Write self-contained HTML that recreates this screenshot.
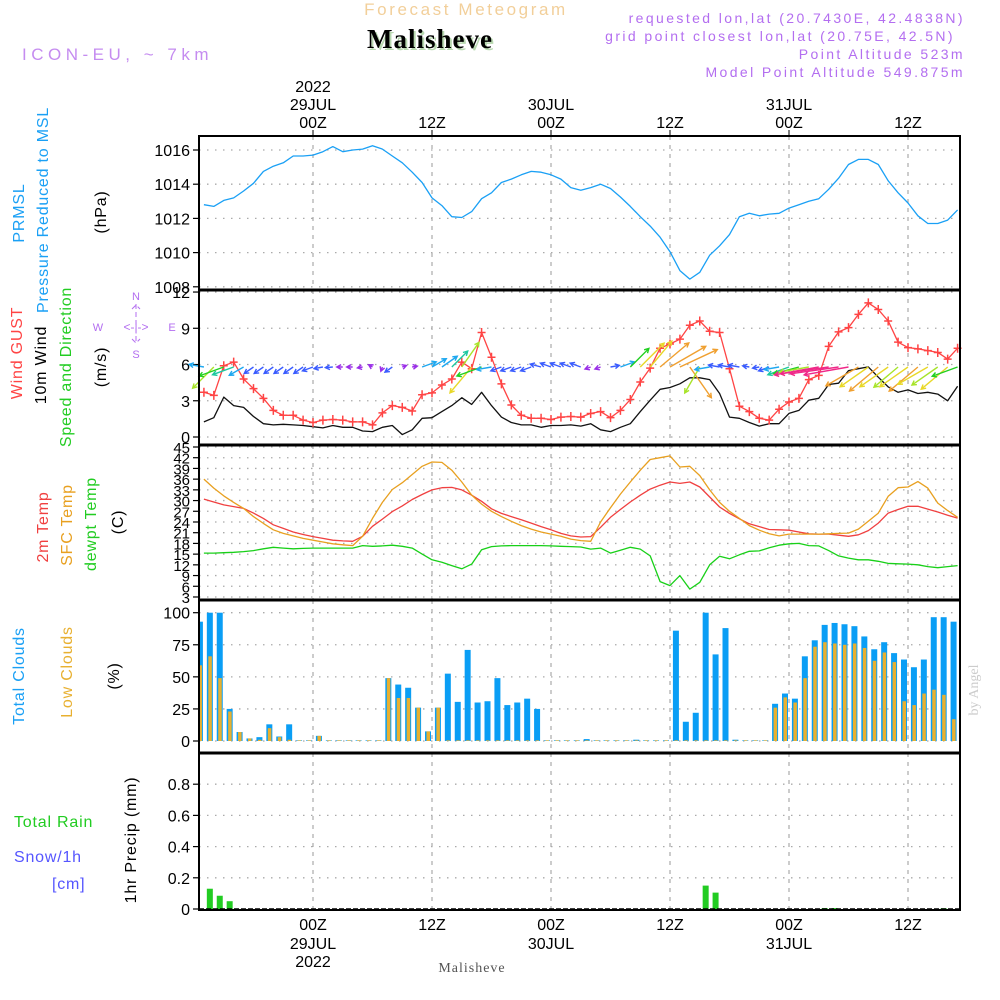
<!DOCTYPE html>
<html><head><meta charset="utf-8"><style>
html,body{margin:0;padding:0;background:#fff;}
svg{display:block;font-family:"Liberation Sans",sans-serif;}
</style></head><body>
<svg id="chart" width="1000" height="1000" viewBox="0 0 1000 1000" xmlns="http://www.w3.org/2000/svg">
<g id="hdr">
<text x="466" y="15" text-anchor="middle" font-size="17" fill="#f2cf9a" letter-spacing="2.6">Forecast Meteogram</text>
<text x="432" y="50" text-anchor="middle" font-family="Liberation Serif,serif" font-weight="bold" font-size="27" fill="#b8d8b0" letter-spacing="1">Malisheve</text>
<text x="430" y="48" text-anchor="middle" font-family="Liberation Serif,serif" font-weight="bold" font-size="27" fill="#000" letter-spacing="1">Malisheve</text>
<text x="22" y="60" font-size="17" fill="#c58cf0" letter-spacing="4.5">ICON-EU, ~ 7km</text>
<g fill="#b36ef0" font-size="14" text-anchor="end" letter-spacing="2.4">
<text x="965" y="23">requested lon,lat (20.7430E, 42.4838N)</text>
<text x="955" y="41">grid point closest lon,lat (20.75E, 42.5N)</text>
<text x="965" y="59">Point Altitude 523m</text>
<text x="965" y="77">Model Point Altitude 549.875m</text>
</g>
</g>
<g id="plot"></g>
</svg>
<script>
const hours = []; for (let h = -11; h <= 65; h++) hours.push(h);
const pressure = [1012.8,1012.7,1013.05,1013.2,1013.6,1014.05,1014.75,1015.05,1015.25,1015.65,1015.65,1015.7,1015.9,1016.2,1015.9,1016.0,1016.05,1016.25,1016.05,1015.65,1015.25,1014.7,1014.1,1013.2,1012.75,1012.1,1012.05,1012.4,1013.15,1013.5,1014.1,1014.3,1014.55,1014.75,1014.7,1014.55,1014.3,1013.8,1013.65,1013.8,1014.0,1013.75,1013.25,1012.7,1012.1,1011.55,1010.9,1010.05,1008.95,1008.45,1008.85,1009.85,1010.4,1011.05,1012.1,1012.3,1012.15,1012.25,1012.3,1012.6,1012.8,1013.0,1013.15,1013.7,1014.35,1015.15,1015.45,1015.45,1015.15,1014.2,1013.5,1012.9,1012.15,1011.7,1011.7,1011.9,1012.5];
const gust = [3.7,3.45,5.9,6.2,4.8,4.0,3.2,2.2,1.8,1.8,1.4,1.2,1.4,1.45,1.4,1.25,1.25,1.0,2.0,2.6,2.45,2.15,3.5,3.65,4.3,4.8,6.2,5.65,8.65,6.6,4.4,2.65,1.8,1.55,1.55,1.45,1.65,1.7,1.65,1.95,2.1,1.6,2.2,3.1,4.55,5.7,7.35,7.7,8.1,9.25,9.6,8.75,8.65,5.65,2.55,2.1,1.55,1.4,2.3,2.9,3.2,4.75,5.1,7.5,8.7,9.05,10.15,11.1,10.55,9.6,7.85,7.4,7.3,7.15,7.0,6.45,7.35];
const wind10 = [1.25,1.6,3.3,2.6,2.45,1.7,1.1,1.0,1.05,1.0,0.95,0.85,0.75,0.95,0.8,0.8,0.5,0.45,0.8,0.95,0.2,0.6,1.55,1.6,2.1,2.6,3.25,2.7,3.7,2.6,1.65,1.2,1.0,1.0,0.8,0.95,0.95,1.0,0.9,1.1,0.6,0.45,0.8,1.1,2.1,3.05,3.95,4.1,4.4,4.9,4.9,4.75,3.6,1.65,1.55,1.2,0.9,1.1,1.1,1.95,2.2,3.05,3.2,4.35,4.45,5.5,5.65,5.8,4.95,4.15,3.7,3.9,3.6,3.7,3.55,3.0,4.2];
const arrowDir = [170,225,200,200,210,215,215,215,215,215,215,200,190,185,180,180,190,150,250,215,20,10,20,30,35,45,55,230,200,190,200,200,200,200,165,160,160,160,160,200,200,10,20,45,45,50,40,30,25,-55,240,190,170,170,170,170,190,200,190,200,195,190,190,188,188,190,210,215,220,215,220,215,220,210,215,220,200];
const arrowSpd = [2.0,4.0,3.5,3.0,2.2,1.5,1.5,1.5,1.5,1.5,1.5,1.5,1.2,1.0,0.8,0.8,0.7,0.6,0.6,1.2,0.6,0.7,2.0,2.2,2.5,3.0,4.0,4.5,3.5,2.0,1.5,1.5,1.5,1.5,1.5,1.5,1.5,1.5,1.5,0.8,0.8,1.2,2.0,3.5,4.5,4.5,5.0,5.5,5.5,5.0,4.0,2.0,1.5,1.5,1.5,0.9,0.9,1.5,2.0,3.0,3.5,4.0,6.0,6.5,6.5,6.0,5.0,4.6,5.0,4.6,4.2,4.6,5.0,4.6,4.2,4.6,3.6];
const temp2m = [30.4,29.6,28.8,28.3,27.8,26.5,25.0,23.2,22.2,21.2,20.5,19.9,19.4,18.9,18.7,18.6,20.0,22.8,24.8,26.9,28.5,30.3,31.7,33.0,33.6,33.7,33.0,31.5,29.8,27.7,26.4,25.5,24.6,23.7,22.7,21.8,20.8,20.1,19.8,19.9,22.5,25.3,27.5,29.6,31.5,33.2,34.3,35.2,34.8,35.2,33.8,31.0,28.2,26.4,24.9,23.5,22.7,21.9,21.8,21.7,21.2,20.7,20.6,20.6,20.3,20.0,20.4,21.6,23.7,26.5,27.5,28.4,28.4,27.6,26.8,25.9,25.1];
const tempSfc = [36.0,33.5,31.3,29.5,27.8,25.5,23.6,21.8,20.8,20.1,19.4,18.9,18.4,17.9,17.6,17.4,20.0,25.0,29.5,33.1,35.0,37.3,39.6,40.8,40.7,38.5,35.2,31.5,29.0,27.0,25.5,24.2,23.0,22.0,21.2,20.6,20.0,19.2,18.8,18.6,24.0,28.0,31.8,35.2,38.5,41.5,42.0,42.5,39.4,39.6,37.0,33.0,29.5,27.0,25.0,23.0,21.7,20.7,20.1,20.6,20.6,20.6,20.6,20.7,20.8,20.9,22.0,24.2,26.5,31.2,33.6,33.8,35.3,33.5,29.3,27.2,25.3];
const dewpt = [15.3,15.3,15.4,15.5,15.7,16.0,16.5,16.9,16.7,16.5,16.6,16.7,16.7,16.7,16.7,16.7,17.4,17.2,17.3,17.5,17.2,16.7,15.0,13.4,12.7,11.8,10.9,12.2,16.2,17.1,17.3,17.4,17.4,17.4,17.4,17.3,17.2,17.1,17.0,16.4,16.7,15.3,16.1,16.9,16.4,14.5,7.3,6.2,9.0,5.2,7.1,12.0,14.4,13.7,14.8,15.8,15.9,16.8,17.5,17.9,18.0,17.4,17.3,16.0,14.5,13.9,13.4,13.4,13.0,12.4,12.3,12.2,12.0,11.5,11.2,11.5,11.8];
const totalClouds = [93,100,100,25,7,2,3,13,3.5,13,0.5,0.5,4,0.5,0.5,0.5,0.5,0.5,0.5,49,44,41.5,26,7.5,26,52.5,30.5,71,30,31,49,28,30,33,25,0.5,0.5,0.5,0.5,1.5,0.5,0.5,0.5,0.5,1,0.5,0.5,0.5,86,15,22,100,67.5,88,1,0.5,0.5,0.5,29,37,33,66,78.5,90.5,92,91,89.5,81.5,71.5,77,68.5,63.5,57.5,63.5,96.5,96.5,93];
const lowClouds = [59,66,49,23,7,2,1,10,3,1,0.5,0.5,4,0.5,0.5,0.5,0.5,0.5,0.5,49,33.5,33.5,26,7.5,26,0.5,0.5,0.5,0.5,0.5,0.5,0.5,0.5,0.5,0.5,0.5,0.5,0.5,0.5,0.5,0.5,0.5,0.5,0.5,0.5,0.5,0.5,0.5,0.5,0.5,0.5,0.5,0.5,0.5,0.5,0.5,0.5,0.5,26,34,30,49,73.5,77,76,75,76,72.5,62.5,69,61.5,31,28,37,40,36,17];
const precip = [0,0.13,0.085,0.05,0,0,0,0,0,0,0,0,0,0,0,0,0,0,0,0,0,0,0,0,0,0,0,0,0,0,0,0,0,0,0,0,0,0,0,0,0,0,0,0,0,0,0,0,0,0,0,0.15,0.105,0,0,0,0,0,0,0,0,0,0,0.006,0.006,0,0,0,0,0,0,0,0,0,0,0.005,0];
const pTicks = [1008,1010,1012,1014,1016];
const wTicks = [0,3,6,9,12];
const tTicks = [3,6,9,12,15,18,21,24,27,30,33,36,39,42,45];
const cTicks = [0,25,50,75,100];
const rTicks = [0,0.2,0.4,0.6,0.8];
const rTickLabels = ["0","0.2","0.4","0.6","0.8"];
const timeTicks = [0,12,24,36,48,60];
const timeLabels = ["00Z","12Z","00Z","12Z","00Z","12Z"];

const NS = "http://www.w3.org/2000/svg";
const root = document.getElementById('plot');
function el(tag, attrs, parent, text){const e=document.createElementNS(NS,tag);for(const k in attrs)e.setAttribute(k,attrs[k]);if(text!==undefined)e.textContent=text;(parent||root).appendChild(e);return e;}
const L=199,R=960;
const xH = h => 313 + h*119/12;
const yP = v => 150 + (1016-v)*17.1;
const yW = v => 437 - v*12.08;
const yT = v => 447 + (45-v)*3.571;
const yC = v => 741 - v*1.283;
const yR = v => 909 - v*156;
const panels = [[136,290],[290,445],[445,600],[600,753],[753,910]];

function hgrid(ticks, fy, top, bot, name){
  ticks.forEach(t=>{const y=fy(t); if(y<top+2||y>bot-2) return;
    const g=el('line',{x1:L,x2:R,y1:y,y2:y,stroke:'#aaa','stroke-width':1.3,'stroke-dasharray':'1.5 6.5'});
    
    
  });
}
panels.forEach((p,i)=>{
  timeTicks.forEach(t=>{const x=xH(t);
    const g=el('line',{x1:x,x2:x,y1:p[0],y2:p[1],stroke:'#aaa','stroke-width':1.2,'stroke-dasharray':'4 5'});
    
    
  });
});
hgrid(pTicks,yP,136,290,'pressure');
hgrid(wTicks,yW,290,445,'wind');
hgrid(tTicks,yT,445,600,'temp');
hgrid(cTicks,yC,600,753,'cloud');
hgrid(rTicks.slice(1),yR,753,910,'precip');

function yTickLabels(ticks, fy, fmt, name, fs){
  ticks.forEach((t,i)=>{const y=fy(t);
    const tk=el('line',{x1:193,x2:199,y1:y,y2:y,stroke:'#000','stroke-width':1.2});
    
    
    const tx=el('text',{x:190,y:y+6,'text-anchor':'end','font-size':fs||16,fill:'#000'},root,fmt(t,i));
    
    
  });
}
yTickLabels(pTicks,yP,t=>String(t),'pressure',16);
yTickLabels(wTicks,yW,t=>String(t),'wind',16);
yTickLabels(tTicks,yT,t=>String(t),'temp',15);
yTickLabels(cTicks,yC,t=>String(t),'cloud',16);
yTickLabels(rTicks,yR,(t,i)=>rTickLabels[i],'precip',16);

function line(vals, fy, color, name, w){
  const d=vals.map((v,i)=>(i?'L':'M')+xH(hours[i]).toFixed(1)+','+fy(v).toFixed(1)).join('');
  const p=el('path',{d:d,fill:'none',stroke:color,'stroke-width':w||1.3,'stroke-linejoin':'round'});
  
  
}
line(pressure,yP,'#1aa0f5','pressure-line');
line(wind10,yW,'#111','wind10m-line');
line(gust,yW,'#f44','wind-gust-line');
gust.forEach((v,i)=>{const x=xH(hours[i]),y=yW(v);
  const m=el('path',{d:`M${x-4},${y}h8M${x},${y-4.5}v9`,stroke:'#f44','stroke-width':1.5});
  
  
});
function arrowColor(s){return s<0.9?'#9a2ee8':s<1.8?'#3a5cff':s<2.6?'#1ea8f0':s<3.2?'#1cc8a0':s<3.8?'#22d022':s<4.3?'#a8e42a':s<4.8?'#e8d828':s<5.7?'#f0a030':'#f02888';}
arrowDir.forEach((d,i)=>{
  const s=arrowSpd[i], len=s*7.5, a=d*Math.PI/180;
  const x0=xH(hours[i]), y0=367;
  const x1=x0+len*Math.cos(a), y1=y0-len*Math.sin(a);
  const hl=5, b1=a+Math.PI-0.5, b2=a+Math.PI+0.5;
  const c=arrowColor(s);
  const p=el('path',{d:`M${x0},${y0}L${x1},${y1}M${x1+hl*Math.cos(b1)},${y1-hl*Math.sin(b1)}L${x1},${y1}L${x1+hl*Math.cos(b2)},${y1-hl*Math.sin(b2)}`,stroke:c,'stroke-width':1.4,fill:'none'});
  
  
});
line(temp2m,yT,'#f04040','temp-2m-line');
line(tempSfc,yT,'#e8a020','temp-sfc-line');
line(dewpt,yT,'#18d018','dewpoint-line');
totalClouds.forEach((v,i)=>{const xe=xH(hours[i]);
  let x0=Math.max(L+1,xe-7);
  const b=el('rect',{x:x0,y:yC(v),width:Math.max(0,xe-1-x0),height:741-yC(v),fill:'#0a9ef5'});
  
  
  const lv=lowClouds[i]; let x1=Math.max(L+1,xe-5.5);
  const o=el('rect',{x:x1,y:yC(lv),width:Math.max(0,xe-2-x1),height:741-yC(lv),fill:'#e8b030'});
  
  
});
precip.forEach((v,i)=>{ if(v<=0) return; const xe=xH(hours[i]);
  const b=el('rect',{x:xe-7,y:yR(v),width:6,height:909-yR(v),fill:'#22cc22'});
  
  
});
const zl=el('line',{x1:L,x2:R,y1:909,y2:909,stroke:'#000','stroke-width':1.5,'stroke-dasharray':'5 2'});


panels.forEach((p,i)=>{
  const f=el('rect',{x:L,y:p[0],width:R-L,height:p[1]-p[0],fill:'none',stroke:'#000','stroke-width':2});
  
  
  if(i>0){const s=el('line',{x1:L,x2:R,y1:p[0],y2:p[0],stroke:'#000','stroke-width':3});
    
    }
});
const dayLabels={0:'29JUL',24:'30JUL',48:'31JUL'};
timeTicks.forEach((t,i)=>{const x=xH(t);
  const tk=el('line',{x1:x,x2:x,y1:130,y2:136,stroke:'#000'});
  
  
  const a=el('text',{x:x,y:128,'text-anchor':'middle','font-size':16,fill:'#000'},root,timeLabels[i]);
  
  
  const b=el('text',{x:x,y:930,'text-anchor':'middle','font-size':16,fill:'#000'},root,timeLabels[i]);
  
  
  if(dayLabels[t]){
    const c=el('text',{x:x,y:110,'text-anchor':'middle','font-size':16,fill:'#000'},root,dayLabels[t]);
    
    
    const d=el('text',{x:x,y:949,'text-anchor':'middle','font-size':16,fill:'#000'},root,dayLabels[t]);
    
    
  }
});
const y1=el('text',{x:313,y:92,'text-anchor':'middle','font-size':16,fill:'#000'},root,'2022');


const y2=el('text',{x:313,y:967,'text-anchor':'middle','font-size':16,fill:'#000'},root,'2022');


const ft=el('text',{x:472,y:972,'text-anchor':'middle','font-size':14,fill:'#555','font-family':'Liberation Serif,serif','letter-spacing':1},root,'Malisheve');


function rlab(txt,x,y,color,name,fs){
  const t=el('text',{x:0,y:0,transform:`translate(${x},${y}) rotate(-90)`,'text-anchor':'middle','font-size':fs||16,fill:color,'letter-spacing':0.8},root,txt);
  
  
}
rlab('PRMSL',24,213,'#1aa0f5','pressure-label-1');
rlab('Pressure Reduced to MSL',48,210,'#1aa0f5','pressure-label-2');
rlab('(hPa)',106,212,'#000','pressure-unit');
rlab('Wind GUST',22,353,'#f44','gust-label');
rlab('10m Wind',46,365,'#000','wind10-label');
rlab('Speed and Direction',71,367,'#22cc22','wind-direction-label');
rlab('(m/s)',106,367,'#000','wind-unit');
rlab('2m Temp',48,527,'#f04040','temp2m-label');
rlab('SFC Temp',72,525,'#e8a020','tempsfc-label');
rlab('dewpt Temp',96,524,'#22cc22','dewpt-label');
rlab('(C)',123,522,'#000','temp-unit');
rlab('Total Clouds',24,676,'#1aa0f5','total-clouds-label');
rlab('Low Clouds',72,672,'#e8b030','low-clouds-label');
rlab('(%)',119,676,'#000','cloud-unit');
rlab('1hr Precip (mm)',136,840,'#000','precip-unit',16);
const w1=el('text',{x:978,y:690,transform:'rotate(-90 978 690)','text-anchor':'middle','font-size':14,fill:'#ccc','font-family':'Liberation Serif,serif'},root,'by Angel');


[['Total  Rain',14,827,'#22cc22','rain-label'],['Snow/1h',14,862,'#5555ff','snow-label'],['[cm]',52,889,'#5555ff','snow-unit']].forEach(a=>{
  const t=el('text',{x:a[1],y:a[2],'font-size':16,fill:a[3],'letter-spacing':0.8,'xml:space':'preserve'},root,a[0]);
  
  
});
const cg=el('g',{fill:'#b36ef0','font-size':11,'text-anchor':'middle'});


el('text',{x:98,y:331},cg,'W');
el('text',{x:172,y:331},cg,'E');
el('text',{x:136,y:300},cg,'N');
el('text',{x:136,y:358},cg,'S');
el('text',{x:136,y:331,'font-size':12},cg,'<-|->');
el('path',{d:'M136,304v40M132,309l4,-4l4,4M132,339l4,4l4,-4',stroke:'#b36ef0','stroke-width':1,fill:'none','stroke-dasharray':'5 3'},cg);
</script>
</body></html>
